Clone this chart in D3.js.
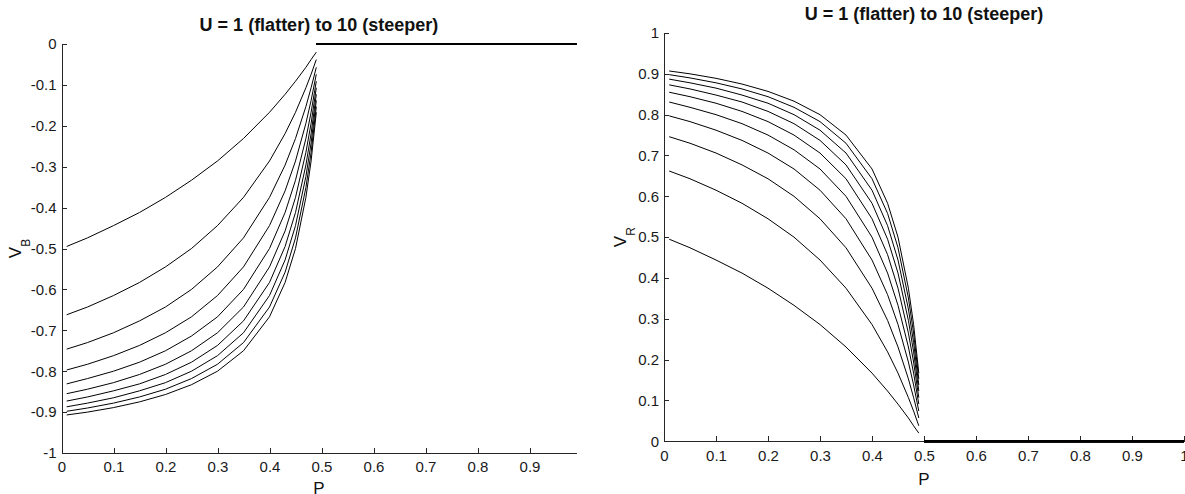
<!DOCTYPE html>
<html lang="en">
<head>
<meta charset="utf-8" />
<title>V_B and V_R against P</title>
<style>
  body { margin: 0; background: #ffffff; }
  svg { display: block; font-family: Arial, "Liberation Sans", sans-serif; }
  .axis path, .axis line { stroke: #262626; shape-rendering: crispEdges; }
  .axis text { font-size: 15px; fill: #1a1a1a; font-family: Arial, "Liberation Sans", sans-serif; }
  .curve { fill: none; stroke: #000000; stroke-width: 1; }
  .flat { fill: none; stroke: #000000; stroke-width: 2; }
  .title { font-size: 18px; font-weight: bold; text-anchor: middle; fill: #111111; }
  .label { font-size: 17px; fill: #111111; text-anchor: middle; }
</style>
<script src="https://cdn.jsdelivr.net/npm/d3@7"></script>
</head>
<body>
<svg width="1185" height="494"></svg>
<script>

// P values where the curves were sampled
var pCurve = [0.01, 0.05, 0.1, 0.15, 0.2, 0.25, 0.3, 0.35, 0.4, 0.43, 0.45, 0.47, 0.48, 0.49];
var uLevels = [1, 2, 3, 4, 5, 6, 7, 8, 9, 10];

// left panel, V_B, one row per U (1 = flatter ... 10 = steeper)
var vB = [
  [-0.495, -0.474, -0.444, -0.412, -0.375, -0.333, -0.286, -0.231, -0.167, -0.123, -0.091, -0.057, -0.038, -0.020],
  [-0.662, -0.643, -0.615, -0.583, -0.545, -0.500, -0.444, -0.375, -0.286, -0.219, -0.167, -0.107, -0.074, -0.038],
  [-0.746, -0.730, -0.706, -0.677, -0.643, -0.600, -0.545, -0.474, -0.375, -0.296, -0.231, -0.153, -0.107, -0.057],
  [-0.797, -0.783, -0.762, -0.737, -0.706, -0.667, -0.615, -0.545, -0.444, -0.359, -0.286, -0.194, -0.138, -0.074],
  [-0.831, -0.818, -0.800, -0.778, -0.750, -0.714, -0.667, -0.600, -0.500, -0.412, -0.333, -0.231, -0.167, -0.091],
  [-0.855, -0.844, -0.828, -0.808, -0.783, -0.750, -0.706, -0.643, -0.545, -0.457, -0.375, -0.265, -0.194, -0.107],
  [-0.873, -0.863, -0.848, -0.831, -0.808, -0.778, -0.737, -0.677, -0.583, -0.495, -0.412, -0.296, -0.219, -0.123],
  [-0.887, -0.878, -0.865, -0.848, -0.828, -0.800, -0.762, -0.706, -0.615, -0.528, -0.444, -0.324, -0.242, -0.138],
  [-0.898, -0.890, -0.878, -0.863, -0.844, -0.818, -0.783, -0.730, -0.643, -0.558, -0.474, -0.351, -0.265, -0.153],
  [-0.907, -0.900, -0.889, -0.875, -0.857, -0.833, -0.800, -0.750, -0.667, -0.583, -0.500, -0.375, -0.286, -0.167]
];

// right panel, V_R
var vR = [
  [0.495, 0.474, 0.444, 0.412, 0.375, 0.333, 0.286, 0.231, 0.167, 0.123, 0.091, 0.057, 0.038, 0.020],
  [0.662, 0.643, 0.615, 0.583, 0.545, 0.500, 0.444, 0.375, 0.286, 0.219, 0.167, 0.107, 0.074, 0.038],
  [0.746, 0.730, 0.706, 0.677, 0.643, 0.600, 0.545, 0.474, 0.375, 0.296, 0.231, 0.153, 0.107, 0.057],
  [0.797, 0.783, 0.762, 0.737, 0.706, 0.667, 0.615, 0.545, 0.444, 0.359, 0.286, 0.194, 0.138, 0.074],
  [0.831, 0.818, 0.800, 0.778, 0.750, 0.714, 0.667, 0.600, 0.500, 0.412, 0.333, 0.231, 0.167, 0.091],
  [0.855, 0.844, 0.828, 0.808, 0.783, 0.750, 0.706, 0.643, 0.545, 0.457, 0.375, 0.265, 0.194, 0.107],
  [0.873, 0.863, 0.848, 0.831, 0.808, 0.778, 0.737, 0.677, 0.583, 0.495, 0.412, 0.296, 0.219, 0.123],
  [0.887, 0.878, 0.865, 0.848, 0.828, 0.800, 0.762, 0.706, 0.615, 0.528, 0.444, 0.324, 0.242, 0.138],
  [0.898, 0.890, 0.878, 0.863, 0.844, 0.818, 0.783, 0.730, 0.643, 0.558, 0.474, 0.351, 0.265, 0.153],
  [0.907, 0.900, 0.889, 0.875, 0.857, 0.833, 0.800, 0.750, 0.667, 0.583, 0.500, 0.375, 0.286, 0.167]
];

// above P = 0.5 every U sits at zero
var pFlatB = [0.49, 0.99];
var pFlatR = [0.5, 1.0];
var vFlat = [0, 0];

// tick labels
var xTicksB = [0, 0.1, 0.2, 0.3, 0.4, 0.5, 0.6, 0.7, 0.8, 0.9];
var yTicksB = [-1, -0.9, -0.8, -0.7, -0.6, -0.5, -0.4, -0.3, -0.2, -0.1, 0];
var xTicksR = [0, 0.1, 0.2, 0.3, 0.4, 0.5, 0.6, 0.7, 0.8, 0.9, 1];
var yTicksR = [0, 0.1, 0.2, 0.3, 0.4, 0.5, 0.6, 0.7, 0.8, 0.9, 1];

var titleText = "U = 1 (flatter) to 10 (steeper)";

var svg = d3.select("svg");

function drawPanel(cfg) {
  var x = d3.scaleLinear().domain(cfg.xDomain).range(cfg.xRange),
      y = d3.scaleLinear().domain(cfg.yDomain).range(cfg.yRange);

  var g = svg.append("g");

  // x axis, ticks point inward like matlab
  g.append("g")
    .attr("class", "axis")
    .attr("transform", "translate(0," + cfg.yRange[0] + ")")
    .call(d3.axisBottom(x).tickValues(cfg.xTicks).tickSize(-5).tickSizeOuter(0)
      .tickPadding(cfg.xPad).tickFormat(function(d) { return String(d); }));

  g.append("g")
    .attr("class", "axis")
    .attr("transform", "translate(" + cfg.xRange[0] + ",0)")
    .call(d3.axisLeft(y).tickValues(cfg.yTicks).tickSize(-5).tickSizeOuter(0)
      .tickPadding(5).tickFormat(function(d) { return String(d); }));

  var line = d3.line()
    .x(function(d) { return x(d[0]); })
    .y(function(d) { return y(d[1]); });

  g.selectAll(".curve")
    .data(cfg.rows)
    .enter().append("path")
    .attr("class", "curve")
    .attr("d", function(row) { return line(d3.zip(pCurve, row)); });

  // the ten flat lines overlap, so draw them once a bit thicker
  g.selectAll(".flat")
    .data(uLevels)
    .enter().append("path")
    .attr("class", "flat")
    .attr("d", function() { return line(d3.zip(cfg.pFlat, vFlat)); });

  var cx = (cfg.xRange[0] + cfg.xRange[1]) / 2;

  g.append("text")
    .attr("class", "title")
    .attr("x", cx)
    .attr("y", cfg.yRange[1] - 13.5)
    .text(titleText);

  g.append("text")
    .attr("class", "label")
    .attr("x", cx)
    .attr("y", cfg.pLabelY)
    .text("P");

  var yl = g.append("text")
    .attr("class", "label")
    .attr("transform", "translate(" + cfg.vLabelX + "," + (cfg.yRange[0] + cfg.yRange[1]) / 2 + ") rotate(-90)");
  yl.append("tspan").text("V");
  yl.append("tspan").attr("dy", 9).style("font-size", "12px").text(cfg.sub);
}

drawPanel({
  xDomain: [0, 0.99], xRange: [61.5, 576.3],
  yDomain: [-1, 0], yRange: [453, 44],
  xTicks: xTicksB, yTicks: yTicksB, xPad: 8,
  rows: vB, pFlat: pFlatB,
  pLabelY: 494, vLabelX: 20.5, sub: "B"
});

drawPanel({
  xDomain: [0, 1], xRange: [664, 1184],
  yDomain: [0, 1], yRange: [441.3, 33],
  xTicks: xTicksR, yTicks: yTicksR, xPad: 9,
  rows: vR, pFlat: pFlatR,
  pLabelY: 485, vLabelX: 626, sub: "R"
});

</script>
</body>
</html>
